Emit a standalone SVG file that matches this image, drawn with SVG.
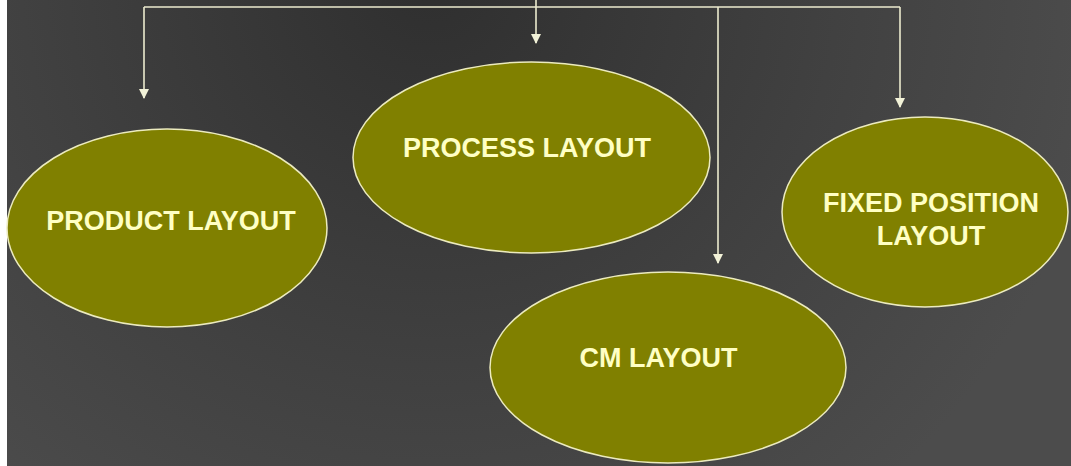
<svg xmlns="http://www.w3.org/2000/svg" width="1071" height="466" viewBox="0 0 1071 466">
  <defs>
    <radialGradient id="bg" gradientUnits="userSpaceOnUse" cx="430" cy="-20" r="680">
      <stop offset="0" stop-color="#2f2f2f"/>
      <stop offset="0.6" stop-color="#414141"/>
      <stop offset="1" stop-color="#4c4c4c"/>
    </radialGradient>
    <!-- triangle drawn along +x so orient="auto" points it down the line -->
    <marker id="arrow" markerWidth="10" markerHeight="10" refX="9" refY="5" orient="auto" markerUnits="userSpaceOnUse" viewBox="0 0 10 10">
      <path d="M0,0 L10,5 L0,10 Z" fill="#f2f2d8"/>
    </marker>
  </defs>
  <style>
    .node ellipse { fill: #808000; stroke: #ecebbf; stroke-width: 1.5; }
    .node text { font-family: "Liberation Sans", Arial, sans-serif; font-weight: bold; font-size: 27px; fill: #ffffc4; text-anchor: middle; }
    .link { fill: none; stroke: #ecebcf; stroke-width: 1.6; }
  </style>

  <!-- backdrop -->
  <rect x="0" y="0" width="1071" height="466" fill="url(#bg)"/>
  <rect x="0" y="0" width="7" height="466" fill="#ffffff"/>

  <!-- connectors -->
  <g id="connectors">
    <polyline class="link" points="144,7 900,7"/>
    <line class="link" x1="536" y1="0" x2="536" y2="43" marker-end="url(#arrow)"/>
    <line class="link" x1="144" y1="7" x2="144" y2="98" marker-end="url(#arrow)"/>
    <line class="link" x1="718" y1="7" x2="718" y2="263" marker-end="url(#arrow)"/>
    <line class="link" x1="900" y1="7" x2="900" y2="107" marker-end="url(#arrow)"/>
  </g>

  <g id="product-layout" class="node">
    <ellipse cx="167" cy="228" rx="160" ry="99"/>
    <text x="171" y="230">PRODUCT LAYOUT</text>
  </g>

  <g id="process-layout" class="node">
    <ellipse cx="531.5" cy="157.5" rx="178.5" ry="95.5"/>
    <text x="527" y="157">PROCESS LAYOUT</text>
  </g>

  <g id="fixed-position-layout" class="node">
    <ellipse cx="925" cy="212" rx="143" ry="95"/>
    <text x="931" y="212">FIXED POSITION</text>
    <text x="931" y="245">LAYOUT</text>
  </g>

  <g id="cm-layout" class="node">
    <ellipse cx="668" cy="367.5" rx="178" ry="95.5"/>
    <text x="658.5" y="367">CM LAYOUT</text>
  </g>
</svg>
